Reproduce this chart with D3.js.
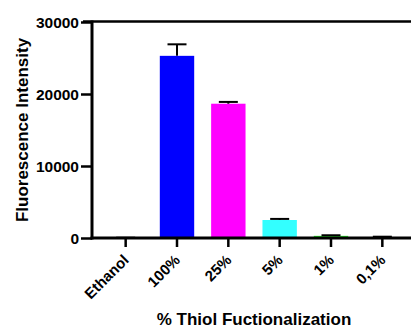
<!DOCTYPE html>
<html><head><meta charset="utf-8">
<script src="https://cdn.jsdelivr.net/npm/d3@7"></script>
<style>body{margin:0;background:#fff}svg{display:block}text{font-family:"Liberation Sans",Arial,sans-serif;font-weight:bold;fill:#000}</style>
</head><body>
<script>
const categories = ["Ethanol","100%","25%","5%","1%","0,1%"];
const values = [20, 25300, 18650, 2500, 300, 120];
const errors = [20, 1600, 250, 150, 80, 60];
const colors = ["#000000","#0000ff","#ff00ff","#33ffff","#33ff33","#6b4423"];
const yTicks = [0, 10000, 20000, 30000];

const W = 411, H = 327;
const svg = d3.select("body").append("svg").attr("width", W).attr("height", H);

const y = d3.scaleLinear().domain([0, 30000]).range([238, 22]);
const x = d3.scaleBand().domain(categories).range([100, 408]).paddingInner(0.33).paddingOuter(0.165);

// bars
svg.selectAll("rect.bar").data(categories).enter().append("rect")
  .attr("x", d => x(d)).attr("width", x.bandwidth())
  .attr("y", (d,i) => y(values[i])).attr("height", (d,i) => y(0) - y(values[i]))
  .attr("fill", (d,i) => colors[i]);

// error bars (upward)
const g = svg.append("g").attr("stroke", "#000").attr("stroke-width", 2);
categories.forEach((d,i) => {
  const cx = x(d) + x.bandwidth()/2;
  g.append("line").attr("x1", cx).attr("x2", cx).attr("y1", y(values[i])).attr("y2", y(values[i]+errors[i]));
  g.append("line").attr("x1", cx-9.5).attr("x2", cx+9.5).attr("y1", y(values[i]+errors[i])).attr("y2", y(values[i]+errors[i]));
});

// y axis
const ya = svg.append("g").attr("transform", "translate(92,0)")
  .call(d3.axisLeft(y).tickValues(yTicks).tickSize(11).tickPadding(2).tickFormat(d3.format("d")));
ya.select(".domain").attr("stroke-width", 3).attr("d", "M0,20.5V239.5");
ya.selectAll(".tick line").attr("stroke-width", 2.5);
ya.selectAll(".tick text").style("font-size", "15.5px").attr("dy", "0.36em");

// top line
svg.append("line").attr("x1", 83).attr("x2", W).attr("y1", 21.5).attr("y2", 21.5).attr("stroke", "#000").attr("stroke-width", 2.5);

// x axis
const xa = svg.append("g").attr("transform", "translate(0,238)")
  .call(d3.axisBottom(x).tickSize(9).tickSizeOuter(0));
xa.select(".domain").attr("stroke-width", 3).attr("d", "M90.5,0H411");
xa.selectAll(".tick line").attr("stroke-width", 2.5);
xa.selectAll(".tick text").style("font-size", "15px")
  .attr("text-anchor", "end").attr("dy", null).attr("y", 0)
  .attr("transform", "translate(4,23) rotate(-45)");

// titles
svg.append("text").attr("transform", "translate(28,130) rotate(-90)").attr("text-anchor", "middle")
  .style("font-size", "17px").text("Fluorescence Intensity");
svg.append("text").attr("x", 254).attr("y", 324.5).attr("text-anchor", "middle")
  .style("font-size", "17px").text("% Thiol Fuctionalization");
</script>
</body></html>
